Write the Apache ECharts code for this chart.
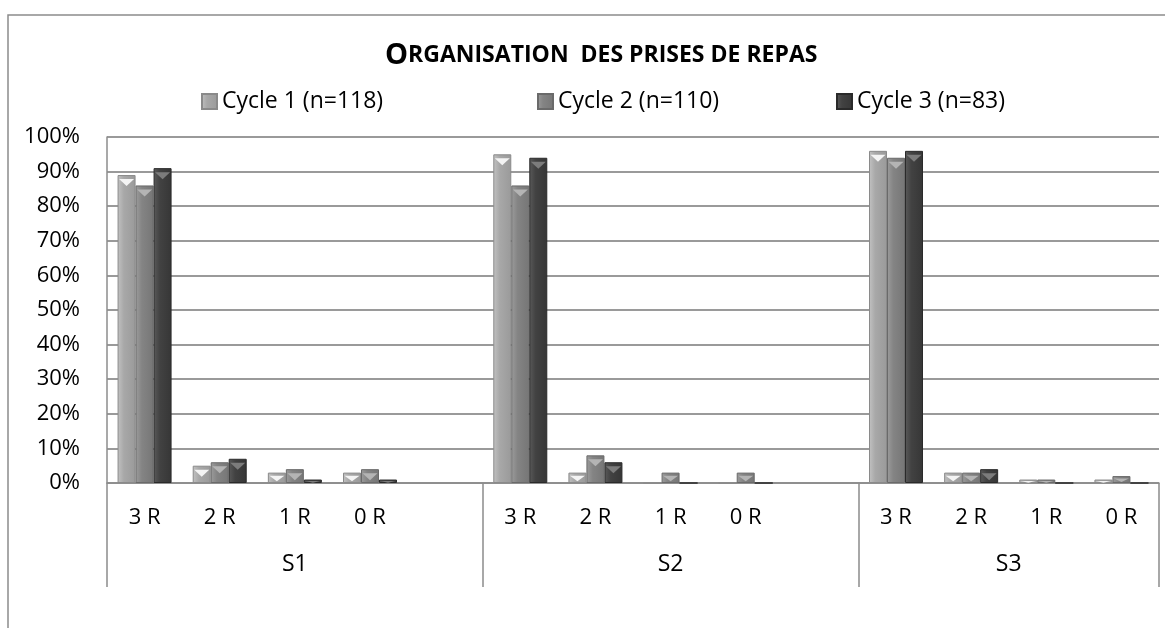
<!DOCTYPE html>
<html>
<head>
<meta charset="utf-8">
<script src="https://cdn.jsdelivr.net/npm/echarts@6/dist/echarts.min.js"></script>
<style>
html, body { margin: 0; padding: 0; background: #fff; }
#main { width: 1165px; height: 628px; }
</style>
</head>
<body>
<div id="main"></div>
<script>
// categories (blank slot between groups, like the Excel layout)
var categories = ['3 R', '2 R', '1 R', '0 R', '', '3 R', '2 R', '1 R', '0 R', '', '3 R', '2 R', '1 R', '0 R'];
var groupNames = ['S1', 'S2', 'S3'];
var groupCenters = [2.5, 7.5, 12];
var groupBounds = [0, 5, 10, 14];
var seriesNames = ['Cycle 1 (n=118)', 'Cycle 2 (n=110)', 'Cycle 3 (n=83)'];

// values in %
var cycle1 = [89, 5, 3, 3, null, 95, 3, 0, 0, null, 96, 3, 1, 1];
var cycle2 = [86, 6, 4, 4, null, 86, 8, 3, 3, null, 94, 3, 1, 2];
var cycle3 = [91, 7, 1, 1, null, 94, 6, 0, 0, null, 96, 4, 0, 0];

var font = '"Open Sans", "Noto Sans", sans-serif';

var myChart = echarts.init(document.getElementById('main'));

function grad(light, base, dark) {
    return new echarts.graphic.LinearGradient(0, 0, 1, 0, [
        { offset: 0, color: light },
        { offset: 0.35, color: base },
        { offset: 1, color: dark }
    ]);
}

var fills = [
    grad('#c2c2c2', '#a8a8a8', '#9a9a9a'),
    grad('#9c9c9c', '#848484', '#767676'),
    grad('#5a5a5a', '#424242', '#363636')
];
var borders = ['#8a8a8a', '#6a6a6a', '#2a2a2a'];
var tips = ['#f4f4f4', '#b4b4b4', '#7c7c7c'];
var allData = [cycle1, cycle2, cycle3];

var series = [];
allData.forEach(function (d, i) {
    series.push({
        name: seriesNames[i],
        type: 'bar',
        data: d,
        barWidth: 18,
        barGap: '0%',
        itemStyle: { color: fills[i], borderColor: borders[i], borderWidth: 1 },
        z: 2
    });
});
// bevel highlight at the top of each bar
allData.forEach(function (d, i) {
    series.push({
        name: seriesNames[i] + ' tip',
        type: 'pictorialBar',
        data: d.map(function (v) {
            if (!(v > 0)) return null;
            var h = Math.min(7, v * 1.8);
            return { value: v, symbolSize: [15, h], symbolOffset: [0, h / 2 + 0.5] };
        }),
        barWidth: 18,
        barGap: '0%',
        symbol: 'triangle',
        symbolRotate: 180,
        symbolPosition: 'end',
        itemStyle: { color: tips[i] },
        silent: true,
        z: 3
    });
});

function legendAt(i, left) {
    return {
        data: [seriesNames[i]],
        left: left,
        top: 90,
        padding: 0,
        icon: 'rect',
        itemWidth: 15,
        itemHeight: 15,
        textStyle: { fontFamily: font, fontSize: 23, color: '#000' }
    };
}

option = {
    backgroundColor: '#fff',
    animation: false,
    title: {
        text: '{a|O}{b|RGANISATION  DES PRISES DE REPAS}',
        left: 380,
        top: 36,
        textStyle: {
            rich: {
                a: { fontFamily: font, fontWeight: 'bold', fontSize: 29, color: '#000' },
                b: { fontFamily: font, fontWeight: 'bold', fontSize: 23, color: '#000' }
            }
        }
    },
    legend: [legendAt(0, 201), legendAt(1, 537), legendAt(2, 836)],
    grid: { left: 107, top: 137, right: 6, bottom: 145 },
    xAxis: [
        {
            type: 'category',
            data: categories,
            axisLine: { lineStyle: { color: '#8c8c8c', width: 1.5 } },
            axisTick: { show: false },
            axisLabel: { margin: 24, fontFamily: font, fontSize: 22, color: '#000', interval: 0 }
        },
        {
            type: 'value',
            min: 0,
            max: 14,
            position: 'bottom',
            axisLine: { show: false },
            splitLine: { show: false },
            axisTick: {
                show: true,
                length: 104,
                customValues: groupBounds,
                lineStyle: { color: '#8c8c8c', width: 1.5 }
            },
            axisLabel: {
                customValues: groupCenters,
                margin: 70,
                fontFamily: font,
                fontSize: 23,
                color: '#000',
                formatter: function (v) { return groupNames[groupCenters.indexOf(v)]; }
            }
        }
    ],
    yAxis: {
        type: 'value',
        min: 0,
        max: 100,
        interval: 10,
        axisLine: { show: true, lineStyle: { color: '#8c8c8c', width: 1.5 } },
        axisTick: { show: false },
        splitLine: { lineStyle: { color: '#9a9a9a', width: 2 } },
        axisLabel: { formatter: '{value}%', margin: 27, fontFamily: font, fontSize: 22, color: '#000' }
    },
    graphic: [{
        type: 'rect',
        shape: { x: 8, y: 15, width: 1200, height: 700 },
        style: { fill: 'none', stroke: '#8c8c8c', lineWidth: 1.5 },
        silent: true,
        z: -1
    }],
    series: series
};
myChart.setOption(option);
</script>
</body>
</html>
